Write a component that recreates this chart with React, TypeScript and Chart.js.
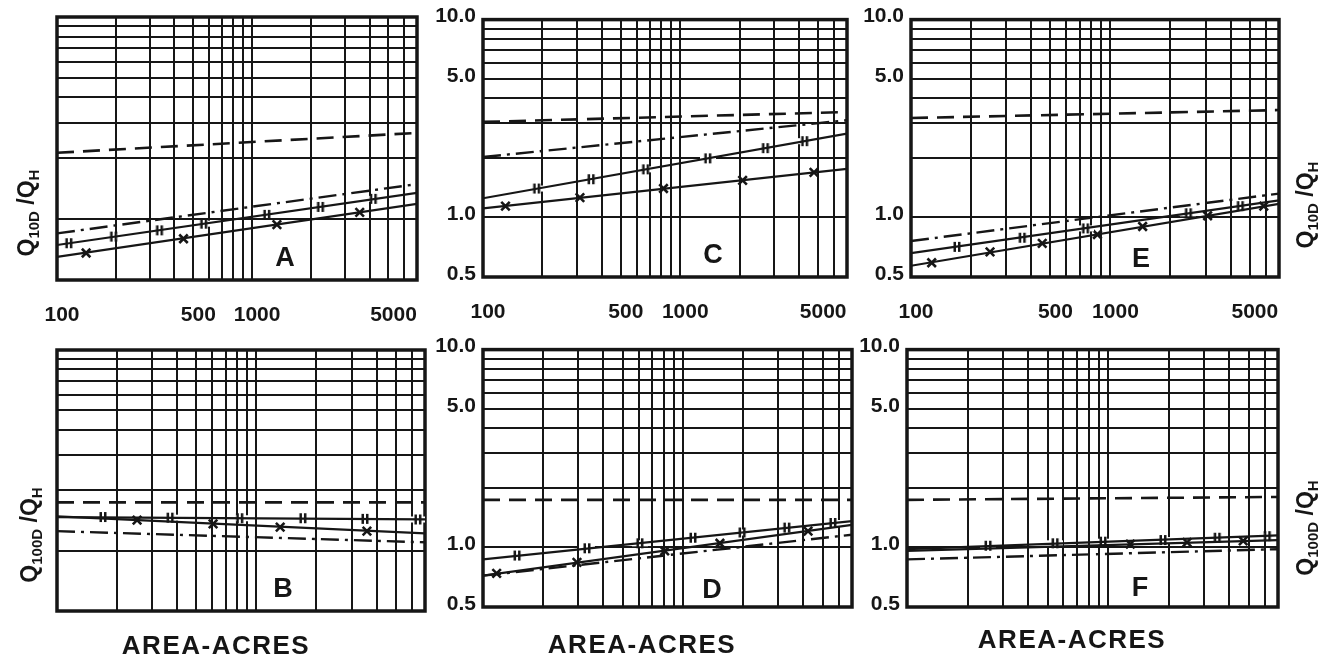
import React, { useEffect, useRef } from 'react';
import { Chart, registerables } from 'chart.js';

Chart.register(...registerables);

// ---------- axes ----------
const X_TICKS = [100, 200, 300, 400, 500, 600, 700, 800, 900, 1000, 2000, 3000, 4000, 5000, 6000, 7000];
const X_LABELS: Record<string, string> = { '100': '100', '500': '500', '1000': '1000', '5000': '5000' };
const Y_TICKS = [0.5, 1, 2, 3, 4, 5, 6, 7, 8, 9, 10];
const Y_LABELS: Record<string, string> = { '0.5': '0.5', '1': '1.0', '5': '5.0', '10': '10.0' };
const LINE_ENDS = [100, 7000];

// ---------- panel A ----------
const A_DASHED = [2.13, 2.67];
const A_DASHDOT = [0.85, 1.49];
const A_BARLINE = [0.745, 1.35];
const A_CROSSLINE = [0.65, 1.19];
const A_BAR_X = [115, 195, 335, 565, 1190, 2240, 4180];
const A_BAR_Y = [0.76, 0.82, 0.88, 0.95, 1.05, 1.15, 1.26];
const A_CROSS_X = [141, 445, 1340, 3560];
const A_CROSS_Y = [0.68, 0.8, 0.94, 1.08];

// ---------- panel C ----------
const C_DASHED = [3.04, 3.41];
const C_DASHDOT = [2.02, 3.1];
const C_BARLINE = [1.25, 2.65];
const C_CROSSLINE = [1.11, 1.76];
const C_BAR_X = [187, 353, 667, 1378, 2700, 4270];
const C_BAR_Y = [1.4, 1.56, 1.75, 1.99, 2.24, 2.43];
const C_CROSS_X = [130, 310, 822, 2070, 4760];
const C_CROSS_Y = [1.14, 1.26, 1.4, 1.54, 1.69];

// ---------- panel E ----------
const E_DASHED = [3.18, 3.49];
const E_DASHDOT = [0.76, 1.32];
const E_BARLINE = [0.66, 1.22];
const E_CROSSLINE = [0.57, 1.17];
const E_BAR_X = [170, 361, 750, 2460, 4480];
const E_BAR_Y = [0.71, 0.79, 0.88, 1.05, 1.14];
const E_CROSS_X = [127, 249, 455, 860, 1450, 3070, 5870];
const E_CROSS_Y = [0.59, 0.67, 0.74, 0.82, 0.9, 1.02, 1.14];

// ---------- panel B ----------
const B_DASHED = [1.74, 1.74];
const B_DASHDOT = [1.25, 1.1];
const B_BARLINE = [1.47, 1.43];
const B_CROSSLINE = [1.48, 1.22];
const B_BAR_X = [170, 369, 825, 1710, 3500, 6450];
const B_BAR_Y = [1.47, 1.46, 1.45, 1.45, 1.44, 1.43];
const B_CROSS_X = [252, 606, 1315, 3580];
const B_CROSS_Y = [1.42, 1.36, 1.31, 1.25];

// ---------- panel D ----------
const D_DASHED = [1.74, 1.74];
const D_DASHDOT = [0.72, 1.16];
const D_BARLINE = [0.87, 1.36];
const D_CROSSLINE = [0.72, 1.3];
const D_BAR_X = [148, 331, 609, 1122, 1975, 3305, 5620];
const D_BAR_Y = [0.91, 0.99, 1.05, 1.12, 1.19, 1.26, 1.33];
const D_CROSS_X = [117, 295, 810, 1530, 4220];
const D_CROSS_Y = [0.74, 0.84, 0.96, 1.05, 1.21];

// ---------- panel F ----------
const F_DASHED = [1.74, 1.8];
const F_DASHDOT = [0.87, 0.98];
const F_BARLINE = [0.98, 1.15];
const F_CROSSLINE = [0.96, 1.09];
const F_BAR_X = [253, 545, 944, 1875, 3490, 6190];
const F_BAR_Y = [1.02, 1.05, 1.07, 1.09, 1.12, 1.14];
const F_CROSS_X = [1290, 2470, 4700];
const F_CROSS_Y = [1.04, 1.06, 1.08];

const Y_TITLE_TOP = '10D';
const Y_TITLE_BOTTOM = '100D';
const X_TITLE = 'AREA-ACRES';

// ---------- styling / layout ----------
const INK = '#161616';
const FONT = '"Liberation Sans", Arial, Helvetica, sans-serif';

type PanelCfg = {
  letter: string;
  series: { dashed: number[]; dashdot: number[]; barLine: number[]; crossLine: number[]; barX: number[]; barY: number[]; crossX: number[]; crossY: number[] };
  canvas: [number, number, number, number]; // page x, y, w, h
  area: [number, number, number, number]; // page left, top, right, bottom
  letterPos: [number, number];
  xTicks: boolean;
  yTicks: boolean;
  yTitle?: { x: number; y: number; sub: string };
  xTitle?: [number, number];
};

const PANELS: PanelCfg[] = [
  {
    letter: 'A',
    series: { dashed: A_DASHED, dashdot: A_DASHDOT, barLine: A_BARLINE, crossLine: A_CROSSLINE, barX: A_BAR_X, barY: A_BAR_Y, crossX: A_CROSS_X, crossY: A_CROSS_Y },
    canvas: [0, 0, 440, 340], area: [57, 17, 427, 280], letterPos: [285, 258],
    xTicks: true, yTicks: false, yTitle: { x: 28, y: 213, sub: Y_TITLE_TOP },
  },
  {
    letter: 'C',
    series: { dashed: C_DASHED, dashdot: C_DASHDOT, barLine: C_BARLINE, crossLine: C_CROSSLINE, barX: C_BAR_X, barY: C_BAR_Y, crossX: C_CROSS_X, crossY: C_CROSS_Y },
    canvas: [430, 0, 440, 340], area: [483, 16, 851, 277], letterPos: [713, 255],
    xTicks: true, yTicks: true,
  },
  {
    letter: 'E',
    series: { dashed: E_DASHED, dashdot: E_DASHDOT, barLine: E_BARLINE, crossLine: E_CROSSLINE, barX: E_BAR_X, barY: E_BAR_Y, crossX: E_CROSS_X, crossY: E_CROSS_Y },
    canvas: [860, 0, 470, 340], area: [911, 15, 1279, 277], letterPos: [1141, 259],
    xTicks: true, yTicks: true, yTitle: { x: 1307, y: 205, sub: Y_TITLE_TOP },
  },
  {
    letter: 'B',
    series: { dashed: B_DASHED, dashdot: B_DASHDOT, barLine: B_BARLINE, crossLine: B_CROSSLINE, barX: B_BAR_X, barY: B_BAR_Y, crossX: B_CROSS_X, crossY: B_CROSS_Y },
    canvas: [0, 330, 440, 333], area: [57, 350, 425, 611], letterPos: [283, 589],
    xTicks: false, yTicks: false, yTitle: { x: 31, y: 535, sub: Y_TITLE_BOTTOM }, xTitle: [216, 646],
  },
  {
    letter: 'D',
    series: { dashed: D_DASHED, dashdot: D_DASHDOT, barLine: D_BARLINE, crossLine: D_CROSSLINE, barX: D_BAR_X, barY: D_BAR_Y, crossX: D_CROSS_X, crossY: D_CROSS_Y },
    canvas: [430, 330, 440, 333], area: [483, 347, 852, 607], letterPos: [712, 590],
    xTicks: false, yTicks: true, xTitle: [642, 645],
  },
  {
    letter: 'F',
    series: { dashed: F_DASHED, dashdot: F_DASHDOT, barLine: F_BARLINE, crossLine: F_CROSSLINE, barX: F_BAR_X, barY: F_BAR_Y, crossX: F_CROSS_X, crossY: F_CROSS_Y },
    canvas: [860, 330, 470, 333], area: [907, 345, 1278, 607], letterPos: [1140, 588],
    xTicks: false, yTicks: true, yTitle: { x: 1307, y: 528, sub: Y_TITLE_BOTTOM }, xTitle: [1072, 640],
  },
];

function makeBarMark(): HTMLCanvasElement {
  const c = document.createElement('canvas');
  c.width = 16;
  c.height = 12;
  const g = c.getContext('2d')!;
  g.fillStyle = '#fff';
  g.fillRect(0, 3, 16, 6);
  g.fillStyle = INK;
  g.fillRect(4.5, 1, 2.5, 10);
  g.fillRect(9, 1, 2.5, 10);
  return c;
}

function lineDs(vals: number[], dash: number[], width: number) {
  return {
    data: LINE_ENDS.map((x, i) => ({ x, y: vals[i] })),
    borderColor: INK,
    borderWidth: width,
    borderDash: dash,
    pointRadius: 0,
    fill: false,
    tension: 0,
  };
}

function markDs(xs: number[], ys: number[], style: any, radius: number) {
  return {
    data: xs.map((x, i) => ({ x, y: ys[i] })),
    showLine: false,
    pointStyle: style,
    pointRadius: radius,
    pointBorderColor: INK,
    pointBackgroundColor: INK,
    pointBorderWidth: 2.6,
  };
}

function drawYTitle(ctx: CanvasRenderingContext2D, cx: number, cy: number, sub: string) {
  const big = `bold 23px ${FONT}`;
  const small = `bold 15px ${FONT}`;
  const parts = [
    { t: 'Q', b: true },
    { t: sub, b: false },
    { t: ' /', b: true },
    { t: 'Q', b: true },
    { t: 'H', b: false },
  ];
  ctx.save();
  ctx.translate(cx, cy);
  ctx.rotate(-Math.PI / 2);
  ctx.fillStyle = INK;
  ctx.textBaseline = 'middle';
  ctx.textAlign = 'left';
  const widths = parts.map((p) => {
    ctx.font = p.b ? big : small;
    return ctx.measureText(p.t).width;
  });
  let x = -widths.reduce((a, b) => a + b, 0) / 2;
  parts.forEach((p, i) => {
    ctx.font = p.b ? big : small;
    ctx.fillText(p.t, x, p.b ? 0 : 7);
    x += widths[i];
  });
  ctx.restore();
}

function Panel({ cfg }: { cfg: PanelCfg }) {
  const ref = useRef<HTMLCanvasElement>(null);
  useEffect(() => {
    const canvas = ref.current!;
    const [cx, cy, cw, ch] = cfg.canvas;
    const [al, at, ar, ab] = cfg.area;
    const yAxisW = al - cx;
    const xAxisH = cy + ch - ab;
    const bar = makeBarMark();
    const s = cfg.series;

    const framePlugin = {
      id: 'frame',
      beforeDatasetsDraw(chart: any) {
        const { left, top, right, bottom } = chart.chartArea;
        const ctx = chart.ctx;
        ctx.save();
        ctx.strokeStyle = INK;
        ctx.lineWidth = 3.5;
        ctx.strokeRect(left, top, right - left, bottom - top);
        ctx.restore();
      },
    };

    const decorPlugin = {
      id: 'decor',
      afterDraw(chart: any) {
        const ctx: CanvasRenderingContext2D = chart.ctx;
        ctx.save();
        ctx.fillStyle = INK;
        ctx.textAlign = 'center';
        ctx.textBaseline = 'middle';
        ctx.font = `bold 27px ${FONT}`;
        ctx.fillText(cfg.letter, cfg.letterPos[0] - cx, cfg.letterPos[1] - cy + 1);
        if (cfg.xTitle) {
          ctx.font = `bold 26px ${FONT}`;
          (ctx as any).letterSpacing = '1.5px';
          ctx.fillText(X_TITLE, cfg.xTitle[0] - cx, cfg.xTitle[1] - cy + 1);
          (ctx as any).letterSpacing = '0px';
        }
        ctx.restore();
        if (cfg.yTitle) drawYTitle(ctx, cfg.yTitle.x - cx, cfg.yTitle.y - cy, cfg.yTitle.sub);
      },
    };

    const gridOpts = { color: INK, lineWidth: 2, drawTicks: false };

    const chart = new Chart(canvas, {
      type: 'line',
      data: {
        datasets: [
          lineDs(s.dashed, [17, 9], 2.6),
          lineDs(s.dashdot, [18, 6, 3, 6], 2.4),
          lineDs(s.barLine, [], 2.2),
          lineDs(s.crossLine, [], 2.2),
          markDs(s.barX, s.barY, bar, 5),
          markDs(s.crossX, s.crossY, 'crossRot', 6),
        ] as any,
      },
      options: {
        animation: false,
        responsive: false,
        maintainAspectRatio: false,
        events: [],
        layout: { padding: { top: at - cy, right: cx + cw - ar, left: 0, bottom: 0 } },
        plugins: { legend: { display: false }, tooltip: { enabled: false }, title: { display: false } },
        scales: {
          x: {
            type: 'logarithmic',
            position: 'bottom',
            min: 100,
            max: 7000,
            afterBuildTicks: (sc: any) => {
              sc.ticks = X_TICKS.map((v) => ({ value: v }));
            },
            afterFit: (sc: any) => {
              sc.height = xAxisH;
            },
            grid: gridOpts,
            border: { display: false },
            ticks: {
              display: cfg.xTicks,
              autoSkip: false,
              maxRotation: 0,
              minRotation: 0,
              padding: 23,
              labelOffset: 5,
              color: INK,
              font: { family: FONT, size: 21, weight: 'bold' },
              callback: (v: any) => X_LABELS[String(v)] ?? '',
            },
          },
          y: {
            type: 'logarithmic',
            position: 'left',
            min: 0.5,
            max: 10,
            afterBuildTicks: (sc: any) => {
              sc.ticks = Y_TICKS.map((v) => ({ value: v }));
            },
            afterFit: (sc: any) => {
              sc.width = yAxisW;
            },
            grid: gridOpts,
            border: { display: false },
            ticks: {
              display: cfg.yTicks,
              autoSkip: false,
              padding: 7,
              labelOffset: -3,
              color: INK,
              font: { family: FONT, size: 21, weight: 'bold' },
              callback: (v: any) => Y_LABELS[String(v)] ?? '',
            },
          },
        },
      } as any,
      plugins: [framePlugin, decorPlugin],
    });
    return () => chart.destroy();
  }, [cfg]);

  const [x, y, w, h] = cfg.canvas;
  return (
    <canvas
      ref={ref}
      width={w}
      height={h}
      style={{ position: 'absolute', left: x, top: y, width: w, height: h }}
    />
  );
}

export default function App() {
  return (
    <div style={{ position: 'absolute', left: 0, top: 0, width: 1330, height: 663, background: '#fff', overflow: 'hidden' }}>
      {PANELS.map((p) => (
        <Panel key={p.letter} cfg={p} />
      ))}
    </div>
  );
}
